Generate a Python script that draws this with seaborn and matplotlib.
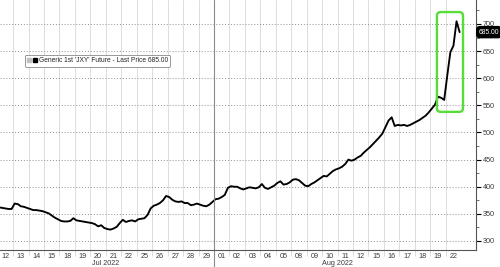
import numpy as np
import pandas as pd
import matplotlib
matplotlib.use("Agg")
import matplotlib.pyplot as plt
import matplotlib.transforms as mtransforms
import seaborn as sns
from matplotlib.lines import Line2D
from matplotlib.patches import FancyBboxPatch
from matplotlib.legend_handler import HandlerTuple

# ---------------- data ----------------
day_labels = ["12", "13", "14", "15", "18", "19", "20", "21", "22", "25", "26", "27", "28", "29",
              "01", "02", "03", "04", "05", "08", "09", "10", "11", "12", "15", "16", "17", "18", "19", "22"]
month_labels = ["Jul 2022", "Aug 2022"]
month_day_counts = [14, 16]
samples_per_day = 5

price = [
    362, 361, 360, 359, 359, 369, 368, 364, 363, 361,
    359, 357, 357, 356, 355, 353, 351, 347, 343, 340,
    337, 336, 336, 337, 342, 338, 337, 336, 335, 334,
    333, 331, 327, 329, 324, 322, 321, 323, 326, 333,
    339, 335, 337, 338, 336, 340, 341, 342, 348, 360,
    365, 367, 370, 375, 383, 381, 376, 373, 372, 373,
    370, 370, 366, 367, 369, 367, 365, 364, 367, 372,
    377, 378, 381, 385, 398, 401, 400, 400, 397, 395,
    397, 399, 398, 397, 399, 405, 398, 396, 399, 402,
    407, 410, 404, 405, 408, 413, 414, 412, 407, 402,
    401, 405, 408, 412, 416, 420, 419, 424, 429, 432,
    434, 437, 442, 450, 448, 450, 454, 457, 463, 468,
    473, 479, 485, 491, 498, 510, 522, 528, 512, 514,
    513, 514, 512, 514, 517, 520, 523, 527, 531, 537,
    544, 551, 566, 564, 560, 605, 648, 660, 705, 685,
]
last_price = 685.00
y_ticks = [300, 350, 400, 450, 500, 550, 600, 650, 700]
series_name = "Generic 1st 'JXY' Future - Last Price 685.00"
highlight_days = (28.43, 30.12)
highlight_range = (538, 722)

session_pos = np.arange(len(price)) / samples_per_day + 0.5 / samples_per_day
df = pd.DataFrame({"t": session_pos, "price": price})
n_days = len(day_labels)

# ---------------- style ----------------
sns.set_theme(style="white")
plt.rcParams["font.family"] = ["Liberation Sans", "DejaVu Sans"]
txt_color = "#3a3a3a"

W, H = 500, 267
ax_left_px, ax_right_px, ax_bottom_px = 0, 476, 250
fig = plt.figure(figsize=(W / 100, H / 100), dpi=100)
ax = fig.add_axes([ax_left_px / W, 1 - ax_bottom_px / H, (ax_right_px - ax_left_px) / W, ax_bottom_px / H])

sns.lineplot(data=df, x="t", y="price", ax=ax, color="black", lw=1.35)

xlim = (0.15, 30.96)
ylim = (283.4, 744.2)
ax.set_xlim(*xlim)
ax.set_ylim(*ylim)
ax.set_xlabel("")
ax.set_ylabel("")

# y axis on the right
ax.yaxis.tick_right()
ax.set_yticks(y_ticks)
ax.set_yticklabels([str(v) for v in y_ticks])
minor_y = [(a + b) / 2 for a, b in zip(y_ticks[:-1], y_ticks[1:])] + [y_ticks[-1] + 25]
ax.set_yticks(minor_y, minor=True)
ax.tick_params(axis="y", which="major", right=True, length=3.5, width=0.8, color="black",
               pad=1.5, labelsize=5.2, labelcolor=txt_color)
ax.tick_params(axis="y", which="minor", right=True, length=2, width=0.6, color="#555555")

# x axis: boundaries (major) and day centres (minor, labelled)
ax.set_xticks(np.arange(1, n_days))
ax.set_xticklabels([""] * (n_days - 1))
ax.set_xticks(np.arange(n_days) + 0.5, minor=True)
ax.set_xticklabels(day_labels, minor=True)
ax.tick_params(axis="x", which="major", bottom=True, length=4, width=0.5, color="#d0d0d0")
ax.tick_params(axis="x", which="minor", bottom=True, length=0, pad=2, labelsize=5.2, labelcolor=txt_color)

# grid
ax.grid(False)
ax.yaxis.grid(True, which="major", ls=(0, (1, 2)), color="#8f8f8f", lw=0.7)
ax.xaxis.grid(True, which="major", ls="-", color="#d8d8d8", lw=0.6)

for s in ["left", "top"]:
    ax.spines[s].set_visible(False)
for s in ["right", "bottom"]:
    ax.spines[s].set_color("#555555")
    ax.spines[s].set_linewidth(0.8)

trans_xa = mtransforms.blended_transform_factory(ax.transData, ax.transAxes)
trans_ay = mtransforms.blended_transform_factory(ax.transAxes, ax.transData)

# month divider and month labels
start = 0
for lab, cnt in zip(month_labels, month_day_counts):
    ax.text(start + cnt / 2, -0.054, lab, transform=trans_xa, ha="center", va="center",
            fontsize=5.2, color=txt_color)
    if start > 0:
        ax.plot([start, start], [1, -0.07], transform=trans_xa, color="#8a8a8a", lw=0.8, clip_on=False)
    start += cnt

# highlight box
x_px_per_unit = (ax_right_px - ax_left_px) / (xlim[1] - xlim[0])
y_px_per_unit = ax_bottom_px / (ylim[1] - ylim[0])
box = FancyBboxPatch((highlight_days[0], highlight_range[0]),
                     highlight_days[1] - highlight_days[0], highlight_range[1] - highlight_range[0],
                     boxstyle="round,pad=0,rounding_size=0.25",
                     mutation_aspect=x_px_per_unit / y_px_per_unit,
                     ec="#58dc3a", fc="none", lw=1.7, zorder=5, clip_on=False)
ax.add_patch(box)

# last price tag
ax.plot([1.006], [last_price], marker="<", ms=3, color="black", transform=trans_ay, clip_on=False)
ax.text(489 / 476, last_price, f"{last_price:.2f}", transform=trans_ay, ha="center", va="center",
        fontsize=4.9, color="white", zorder=6,
        bbox=dict(boxstyle="round,pad=0.3,rounding_size=0.5", fc="black", ec="black"))

# legend
handles = [(Line2D([], [], marker="s", ls="", color="#c0c0c0", ms=2.5),
            Line2D([], [], marker="s", ls="", color="black", ms=3.5))]
leg = ax.legend(handles, [series_name], handler_map={tuple: HandlerTuple(ndivide=None, pad=0.2)},
                loc="upper left", bbox_to_anchor=(25 / 476, 1 - 55 / 250), borderaxespad=0,
                fontsize=4.8, frameon=True, fancybox=True, edgecolor="#888888", framealpha=1,
                handlelength=1.4, handletextpad=0.3, borderpad=0.35)
leg.get_frame().set_linewidth(0.6)
for t in leg.get_texts():
    t.set_color("#222222")

fig.savefig("out.png", dpi=100)
